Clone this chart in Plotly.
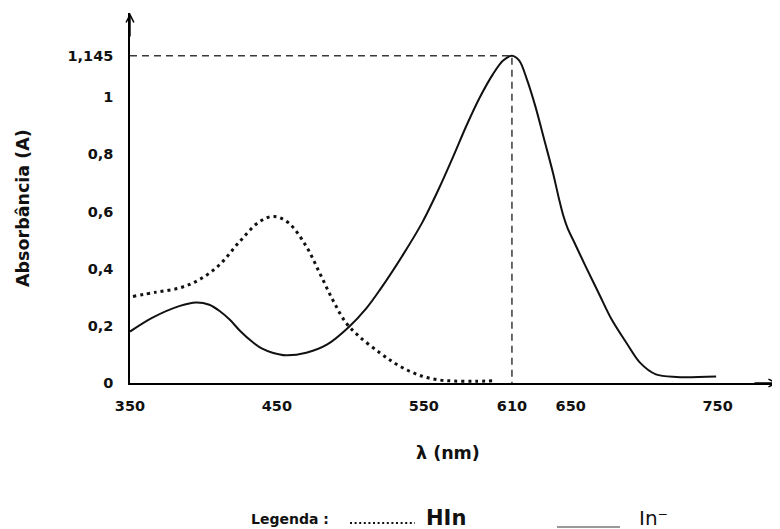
import plotly.graph_objects as go

# ---- data ----
wl_in = [350, 365, 384, 395, 404, 411, 418, 425, 433, 440, 447, 456, 470, 484,
         499, 511, 520, 536, 549, 560, 570, 579, 588, 597, 604, 610, 615, 620,
         626, 632, 638, 642, 645, 648, 652, 660, 669, 678, 688, 697, 708, 722, 749]
abs_in = [0.180, 0.228, 0.270, 0.282, 0.274, 0.252, 0.221, 0.182, 0.145, 0.120,
          0.106, 0.097, 0.106, 0.134, 0.196, 0.262, 0.325, 0.450, 0.562, 0.677,
          0.792, 0.900, 0.998, 1.080, 1.128, 1.145, 1.128, 1.065, 0.967, 0.851,
          0.734, 0.645, 0.585, 0.540, 0.497, 0.410, 0.315, 0.221, 0.140, 0.072,
          0.030, 0.021, 0.023]

wl_hin = [352, 368, 384, 397, 411, 424, 438, 448, 458, 470, 479, 488, 497, 506,
          520, 530, 540, 550, 560, 570, 585, 598]
abs_hin = [0.303, 0.318, 0.333, 0.361, 0.414, 0.491, 0.564, 0.583, 0.560, 0.478,
           0.386, 0.291, 0.211, 0.163, 0.106, 0.070, 0.042, 0.022, 0.011, 0.007,
           0.006, 0.008]

peak_wl = 610
peak_abs = 1.145

x_tickvals = [350, 450, 550, 610, 650, 750]
x_ticktext = ["350", "450", "550", "610", "650", "750"]
y_tickvals = [0, 0.2, 0.4, 0.6, 0.8, 1, 1.145]
y_ticktext = ["0", "0,2", "0,4", "0,6", "0,8", "1", "1,145"]

# ---- layout geometry (page body has an 8px margin) ----
OFF = 8
W, H = 780 - OFF, 529 - OFF
ML, MR, MT = 130 - OFF, 2, 13 - OFF
MB = H - (383 - OFF)
PW, PH = W - ML - MR, H - MT - MB


def px(xp):
    """reference-picture x pixel -> paper coordinate"""
    return (xp - OFF - ML) / PW


def py(yp):
    """reference-picture y pixel -> paper coordinate"""
    return (H - MB - (yp - OFF)) / PH


FONT = "DejaVu Sans"

fig = go.Figure()

fig.add_trace(go.Scatter(
    x=[wl_in[0], peak_wl, peak_wl], y=[peak_abs, peak_abs, 0],
    mode="lines", line=dict(color="#3a3a3a", width=1.5, dash="7px,5px"),
    hoverinfo="skip", showlegend=False, cliponaxis=False))

fig.add_trace(go.Scatter(
    x=wl_hin, y=abs_hin, mode="lines", name="HIn",
    line=dict(color="#111", width=3, dash="3px,4px", shape="spline", smoothing=1.0),
    showlegend=False))

fig.add_trace(go.Scatter(
    x=wl_in, y=abs_in, mode="lines", name="In⁻",
    line=dict(color="#111", width=2, shape="spline", smoothing=0.9),
    showlegend=False))

fig.update_xaxes(
    range=[350, 350 + PW / 1.469], showline=True, linecolor="black", linewidth=1.5,
    showgrid=False, zeroline=False, tickvals=x_tickvals, ticktext=x_ticktext,
    ticks="", ticklabelstandoff=9,
    tickfont=dict(family=FONT, size=14.5, color="#111", weight="bold"))
fig.update_yaxes(
    range=[0, PH / 285.8], showline=True, linecolor="black", linewidth=1.5,
    showgrid=False, zeroline=False, tickvals=y_tickvals, ticktext=y_ticktext,
    ticks="", ticklabelstandoff=12,
    tickfont=dict(family=FONT, size=14.5, color="#111", weight="bold"))

annotations = [
    # axis arrows
    dict(x=1, y=0, xref="paper", yref="paper", ax=-25, ay=0, showarrow=True,
         arrowhead=5, arrowsize=1.1, arrowwidth=1.4, arrowcolor="black", standoff=0, text=""),
    dict(x=0, y=1, xref="paper", yref="paper", ax=0, ay=25, showarrow=True,
         arrowhead=5, arrowsize=1.1, arrowwidth=1.4, arrowcolor="black", standoff=0, text=""),
    # axis titles
    dict(x=px(23), y=py(208), xref="paper", yref="paper", text="Absorbância (A)",
         textangle=-90, showarrow=False, xanchor="center", yanchor="middle",
         font=dict(family=FONT, size=17.5, color="#111", weight="bold")),
    dict(x=px(448), y=py(453), xref="paper", yref="paper", text="λ (nm)",
         showarrow=False, xanchor="center", yanchor="middle",
         font=dict(family=FONT, size=17.5, color="#111", weight="bold")),
    # legend
    dict(x=px(290), y=py(519), xref="paper", yref="paper", text="Legenda :",
         showarrow=False, xanchor="center", yanchor="middle",
         font=dict(family=FONT, size=14, color="#111", weight="bold")),
    dict(x=px(446), y=py(518), xref="paper", yref="paper", text="HIn",
         showarrow=False, xanchor="center", yanchor="middle",
         font=dict(family=FONT, size=21, color="#111", weight="bold")),
    dict(x=px(653), y=py(518), xref="paper", yref="paper", text="In⁻",
         showarrow=False, xanchor="center", yanchor="middle",
         font=dict(family=FONT, size=20, color="#111")),
]

shapes = [
    dict(type="line", xref="paper", yref="paper", x0=px(350), x1=px(415),
         y0=py(523), y1=py(523), line=dict(color="#111", width=2, dash="2px,2.6px")),
    dict(type="line", xref="paper", yref="paper", x0=px(557), x1=px(620),
         y0=py(527), y1=py(527), line=dict(color="#777", width=1.3)),
]

fig.update_layout(
    width=W, height=H, margin=dict(l=ML, r=MR, t=MT, b=MB),
    paper_bgcolor="white", plot_bgcolor="white",
    annotations=annotations, shapes=shapes, showlegend=False,
    font=dict(family=FONT, color="#111"))

fig.write_html("out.html")
